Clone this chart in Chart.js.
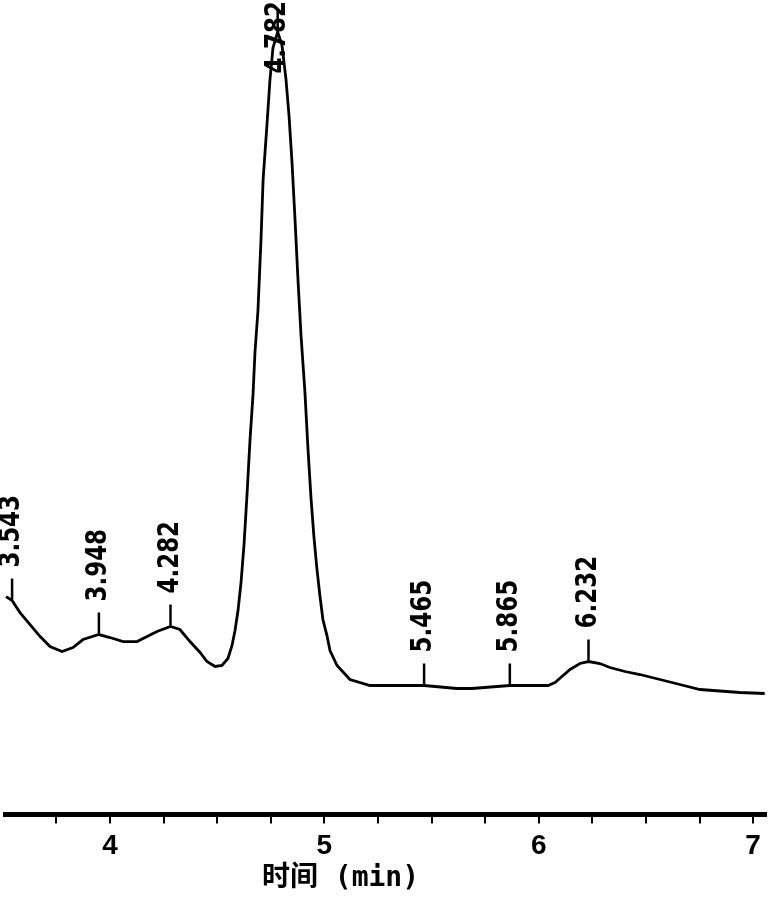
<!DOCTYPE html>
<html>
<head>
<meta charset="utf-8">
<script src="https://cdn.jsdelivr.net/npm/chart.js@4"></script>
<style>
  html, body { margin: 0; padding: 0; background: #fff; }
  #wrap { width: 768px; height: 901px; }
</style>
</head>
<body>
<div id="wrap"><canvas id="myChart"></canvas></div>
<script>
// retention time (min) and detector signal
const times = [3.515, 3.543, 3.580, 3.627, 3.674, 3.720, 3.776, 3.827, 3.874, 3.948,
  4.000, 4.061, 4.126, 4.173, 4.219, 4.282, 4.326, 4.373, 4.420, 4.452,
  4.490, 4.522, 4.550, 4.569, 4.583, 4.597, 4.611, 4.625, 4.639, 4.653,
  4.667, 4.676, 4.690, 4.704, 4.714, 4.732, 4.746, 4.760, 4.782, 4.802,
  4.821, 4.835, 4.849, 4.863, 4.877, 4.891, 4.909, 4.923, 4.937, 4.951,
  4.965, 4.979, 4.993, 5.012, 5.026, 5.059, 5.119, 5.213, 5.465, 5.618,
  5.688, 5.865, 6.043, 6.076, 6.108, 6.146, 6.192, 6.232, 6.285, 6.332,
  6.402, 6.472, 6.565, 6.658, 6.752, 6.938, 7.054];
const signal = [218, 214, 202, 190, 178, 168, 163, 167, 175, 180,
  177, 173, 173, 178, 183, 188, 185, 173, 162, 153,
  148, 149, 156, 169, 184, 204, 232, 270, 320, 375,
  420, 462, 504, 574, 635, 690, 735, 767, 783, 770,
  735, 699, 652, 595, 534, 479, 423, 367, 318, 278,
  246, 219, 195, 179, 164, 149, 135, 129, 129, 126,
  126, 129, 129, 132, 138, 145, 151, 153, 151, 147,
  143, 140, 135, 130, 125, 122, 121];

const peakTimes = [3.543, 3.948, 4.282, 4.782, 5.465, 5.865, 6.232];
const peakLabels = ['3.543', '3.948', '4.282', '4.782', '5.465', '5.865', '6.232'];

const xTitle = '时间 (min)';

const points = times.map((t, i) => ({ x: t, y: signal[i] }));

// peak marks: short tick above the trace and the time written upwards
const peakMarks = {
  id: 'peakMarks',
  afterDatasetsDraw(chart) {
    const ctx = chart.ctx;
    const xs = chart.scales.x, ys = chart.scales.y;
    const top = chart.chartArea.top;
    const squeeze = 0.82; // labels in the original are tall and narrow
    ctx.save();
    ctx.strokeStyle = '#000';
    ctx.fillStyle = '#000';
    ctx.lineWidth = 2.5;
    ctx.font = "bold 28px 'DejaVu Sans', sans-serif";
    ctx.textBaseline = 'middle';
    ctx.textAlign = 'left';
    peakTimes.forEach((t, i) => {
      const idx = times.indexOf(t);
      const px = xs.getPixelForValue(t);
      const py = ys.getPixelForValue(signal[idx]);
      ctx.beginPath();
      ctx.moveTo(px, py - 1);
      ctx.lineTo(px, py - 22);
      ctx.stroke();
      const w = ctx.measureText(peakLabels[i]).width * squeeze;
      let start = py - 33;
      if (start - w < top) start = top + w + 1;
      ctx.save();
      ctx.translate(px, start);
      ctx.rotate(-Math.PI / 2);
      ctx.scale(squeeze, 1);
      ctx.fillText(peakLabels[i], 0, 0);
      ctx.restore();
    });
    ctx.restore();
  }
};

const axisTitle = {
  id: 'axisTitle',
  afterDraw(chart) {
    const ctx = chart.ctx;
    const a = chart.chartArea;
    ctx.save();
    ctx.fillStyle = '#000';
    ctx.font = "bold 28px 'DejaVu Sans Mono', 'Noto Sans CJK SC', monospace";
    ctx.textAlign = 'center';
    ctx.textBaseline = 'middle';
    ctx.fillText(xTitle, (a.left + a.right) / 2 - 45, 879);
    ctx.restore();
  }
};

const config = {
  type: 'line',
  data: {
    datasets: [{
      data: points,
      borderColor: '#000',
      borderWidth: 2.8,
      pointRadius: 0,
      tension: 0,
      fill: false
    }]
  },
  options: {
    responsive: true,
    maintainAspectRatio: false,
    animation: false,
    layout: { padding: { left: 5, right: 2, top: 0, bottom: 32 } },
    plugins: { legend: { display: false }, tooltip: { enabled: false } },
    scales: {
      x: {
        type: 'linear',
        min: 3.51,
        max: 7.06,
        border: { display: true, color: '#000', width: 5 },
        grid: { drawOnChartArea: false, drawTicks: true, tickLength: 9, lineWidth: 2, color: '#000' },
        ticks: {
          stepSize: 0.25,
          includeBounds: false,
          autoSkip: false,
          maxRotation: 0,
          padding: 6,
          color: '#000',
          font: { family: "'Liberation Sans', sans-serif", size: 28, weight: 'bold' },
          callback: function(value) {
            return Number.isInteger(value) ? String(value) : '';
          }
        }
      },
      y: {
        display: false,
        min: 0,
        max: 815
      }
    }
  },
  plugins: [peakMarks, axisTitle]
};

const myChart = new Chart(document.getElementById('myChart'), config);
</script>
</body>
</html>
